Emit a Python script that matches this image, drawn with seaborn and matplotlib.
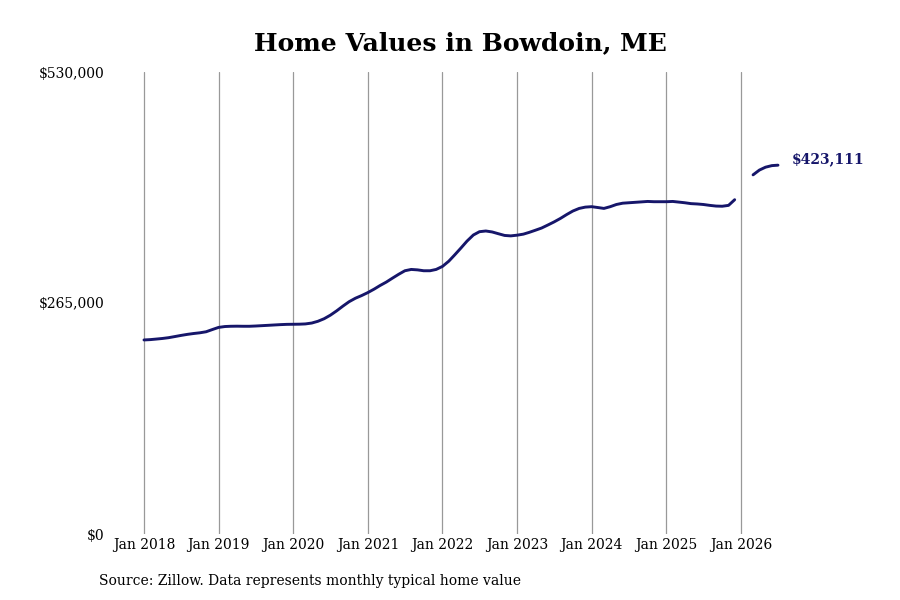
import numpy as np
import pandas as pd
import matplotlib
matplotlib.use("Agg")
import matplotlib.pyplot as plt
import matplotlib.dates as mdates
import seaborn as sns

# monthly typical home value (thousands of $), Jan 2018 - Dec 2025
hist_start = "2018-01-01"
hist_values = [
    222.6, 223.0, 223.6, 224.3, 225.2, 226.5, 227.8, 229.0, 230.0, 230.8, 232.0, 234.5,
    237.0, 238.0, 238.3, 238.4, 238.3, 238.3, 238.6, 239.0, 239.4, 239.8, 240.2, 240.5,
    240.6, 240.7, 241.0, 242.0, 244.0, 247.0, 251.0, 256.0, 261.5, 266.5, 270.5, 273.5,
    277.0, 281.0, 285.0, 289.0, 293.5, 298.0, 302.0, 303.5, 303.0, 302.0, 302.0, 303.5,
    307.0, 313.0, 320.0, 328.0, 336.0, 343.0, 346.8, 347.6, 346.5, 344.5, 342.5, 342.0,
    342.8, 344.0, 346.0, 348.5, 351.0, 354.5, 358.0, 362.0, 366.5, 370.5, 373.5, 375.0,
    375.5, 374.5, 373.5, 375.5, 378.0, 379.5, 380.0, 380.5, 381.0, 381.5, 381.2, 381.2,
    381.2, 381.5, 380.8, 380.0, 379.0, 378.6, 378.0, 377.0, 376.2, 376.0, 377.0, 383.5,
]
# forecast, Mar 2026 - Jul 2026
fcst_start = "2026-03-01"
fcst_values = [412.0, 417.5, 420.8, 422.6, 423.111]

y_ticks = [0, 265000, 530000]
y_tick_labels = ["$0", "$265,000", "$530,000"]
x_tick_years = list(range(2018, 2027))
title = "Home Values in Bowdoin, ME"
source = "Source: Zillow. Data represents monthly typical home value"
line_color = "#16166a"

df_hist = pd.DataFrame({
    "date": pd.date_range(hist_start, periods=len(hist_values), freq="MS"),
    "value": np.array(hist_values) * 1000,
})
df_fcst = pd.DataFrame({
    "date": pd.date_range(fcst_start, periods=len(fcst_values), freq="MS"),
    "value": np.array(fcst_values) * 1000,
})

sns.set_style("white")
plt.rcParams["font.family"] = ["DejaVu Serif"]
plt.rcParams["text.color"] = "black"
plt.rcParams["xtick.color"] = "black"
plt.rcParams["ytick.color"] = "black"

fig = plt.figure(figsize=(9, 6), dpi=100)
ax = fig.add_axes([0.1222, 0.11, 0.7667, 0.77])

sns.lineplot(data=df_hist, x="date", y="value", color=line_color, linewidth=2.1, ax=ax)
sns.lineplot(data=df_fcst, x="date", y="value", color=line_color, linewidth=2.1, ax=ax)

# x range so Jan 2018 and Jan 2026 land on the reference gridlines
x0 = mdates.date2num(pd.Timestamp("2018-01-01"))
x1 = mdates.date2num(pd.Timestamp("2026-01-01"))
ppd = (741 - 144) / (x1 - x0)
ax.set_xlim(x0 - (144 - 110) / ppd, x0 + (800 - 144) / ppd)
ax.set_ylim(0, 530000)

ax.set_xticks([mdates.date2num(pd.Timestamp(f"{y}-01-01")) for y in x_tick_years])
ax.set_xticklabels([f"Jan {y}" for y in x_tick_years], fontsize=10)
ax.set_yticks(y_ticks)
ax.set_yticklabels(y_tick_labels, fontsize=10)
ax.tick_params(axis="both", length=0)
ax.tick_params(axis="x", pad=3)
ax.tick_params(axis="y", pad=4)

ax.xaxis.grid(True, color="#999999", linewidth=0.9)
ax.yaxis.grid(False)
for s in ax.spines.values():
    s.set_visible(False)
ax.set_xlabel("")
ax.set_ylabel("")

last = df_fcst.iloc[-1]
ax.annotate(f"${last['value']:,.0f}", xy=(mdates.date2num(last["date"]), last["value"]),
            xytext=(10, 4), textcoords="offset points", fontsize=10, fontweight="bold",
            color=line_color, va="center", ha="left")

fig.text(0.512, 0.928, title, ha="center", va="center", fontsize=18, fontweight="bold",
         color="black")
fig.text(0.11, 0.032, source, ha="left", va="center", fontsize=10, color="black")

fig.savefig("out.png", dpi=100)
